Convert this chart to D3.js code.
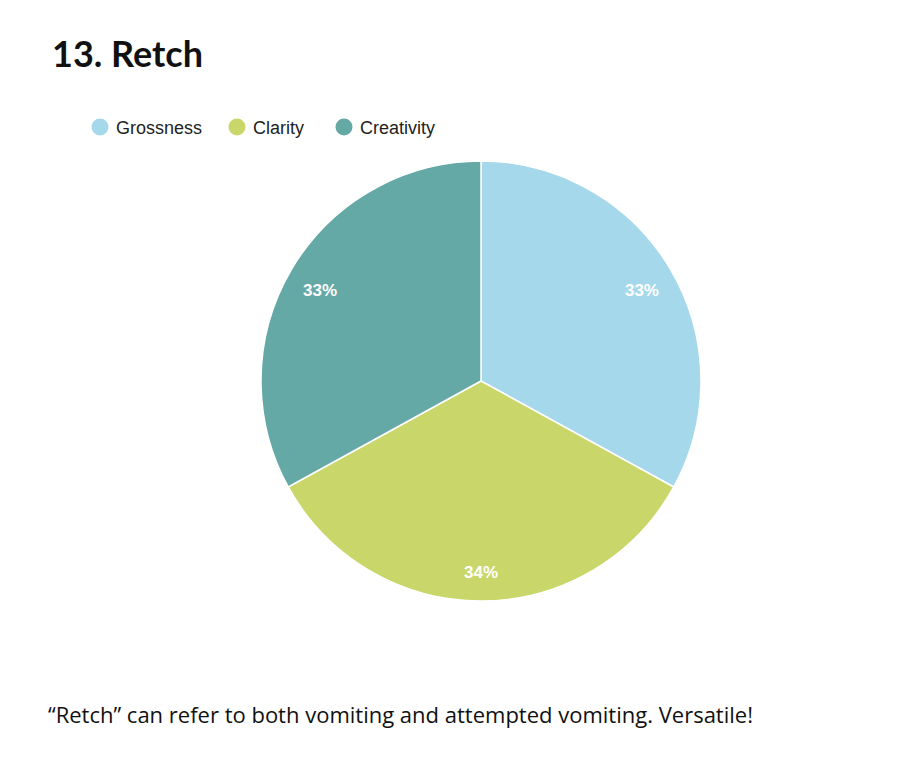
<!DOCTYPE html>
<html>
<head>
<meta charset="utf-8">
<script src="https://cdn.jsdelivr.net/npm/d3@7"></script>
<style>
  body { margin: 0; background: #fff; }
  #chart { width: 900px; height: 766px; }
</style>
</head>
<body>
<div id="chart"></div>
<script>
// data
var categories = ["Grossness", "Clarity", "Creativity"];
var values = [33, 34, 33];
var colors = ["#a6d8eb", "#c9d76a", "#65a9a7"];

var titleText = "13. Retch";
var captionText = "\u201cRetch\u201d can refer to both vomiting and attempted vomiting. Versatile!";

var width = 900;
var height = 766;

var svg = d3
  .select("#chart")
  .append("svg")
  .attr("width", width)
  .attr("height", height);

// title
svg
  .append("text")
  .attr("x", 52)
  .attr("y", 67)
  .style("font-family", "Lato, 'Open Sans', sans-serif")
  .style("font-weight", "bold")
  .style("font-size", "36px")
  .style("fill", "#111")
  .text(titleText);

// legend
var legendX = [100, 237, 344];
var legend = svg
  .selectAll(".legend")
  .data(categories)
  .enter()
  .append("g")
  .attr("class", "legend")
  .attr("transform", function(d, i) {
    return "translate(" + legendX[i] + ",127)";
  });

legend
  .append("circle")
  .attr("r", 8.5)
  .style("fill", function(d, i) {
    return colors[i];
  });

legend
  .append("text")
  .attr("x", 16)
  .attr("y", 6.5)
  .style("font-family", "'Liberation Sans', Arial, sans-serif")
  .style("font-size", "18px")
  .style("fill", "#222")
  .text(function(d) {
    return d;
  });

// pie
var radius = 220;
var pieGroup = svg
  .append("g")
  .attr("transform", "translate(481,381)");

var pie = d3
  .pie()
  .sort(null)
  .value(function(d) {
    return d;
  });

var arc = d3.arc().innerRadius(0).outerRadius(radius);
var labelArc = d3.arc().innerRadius(187).outerRadius(187);

var slices = pie(values);

pieGroup
  .selectAll(".slice")
  .data(slices)
  .enter()
  .append("path")
  .attr("class", "slice")
  .attr("d", arc)
  .style("fill", function(d, i) {
    return colors[i];
  })
  .style("stroke", "#fff")
  .style("stroke-width", 1.5);

var total = d3.sum(values);
pieGroup
  .selectAll(".label")
  .data(slices)
  .enter()
  .append("text")
  .attr("class", "label")
  .attr("transform", function(d) {
    var c = labelArc.centroid(d);
    return "translate(" + c[0] + "," + (c[1] + 4) + ")";
  })
  .attr("text-anchor", "middle")
  .attr("dy", "0.35em")
  .style("font-family", "'Liberation Sans', Arial, sans-serif")
  .style("font-weight", "bold")
  .style("font-size", "17px")
  .style("fill", "#fff")
  .text(function(d) {
    return Math.round((d.value / total) * 100) + "%";
  });

// caption
svg
  .append("text")
  .attr("x", 48)
  .attr("y", 723)
  .style("font-family", "'Open Sans', sans-serif")
  .style("font-size", "22px")
  .style("fill", "#111")
  .text(captionText);
</script>
</body>
</html>
